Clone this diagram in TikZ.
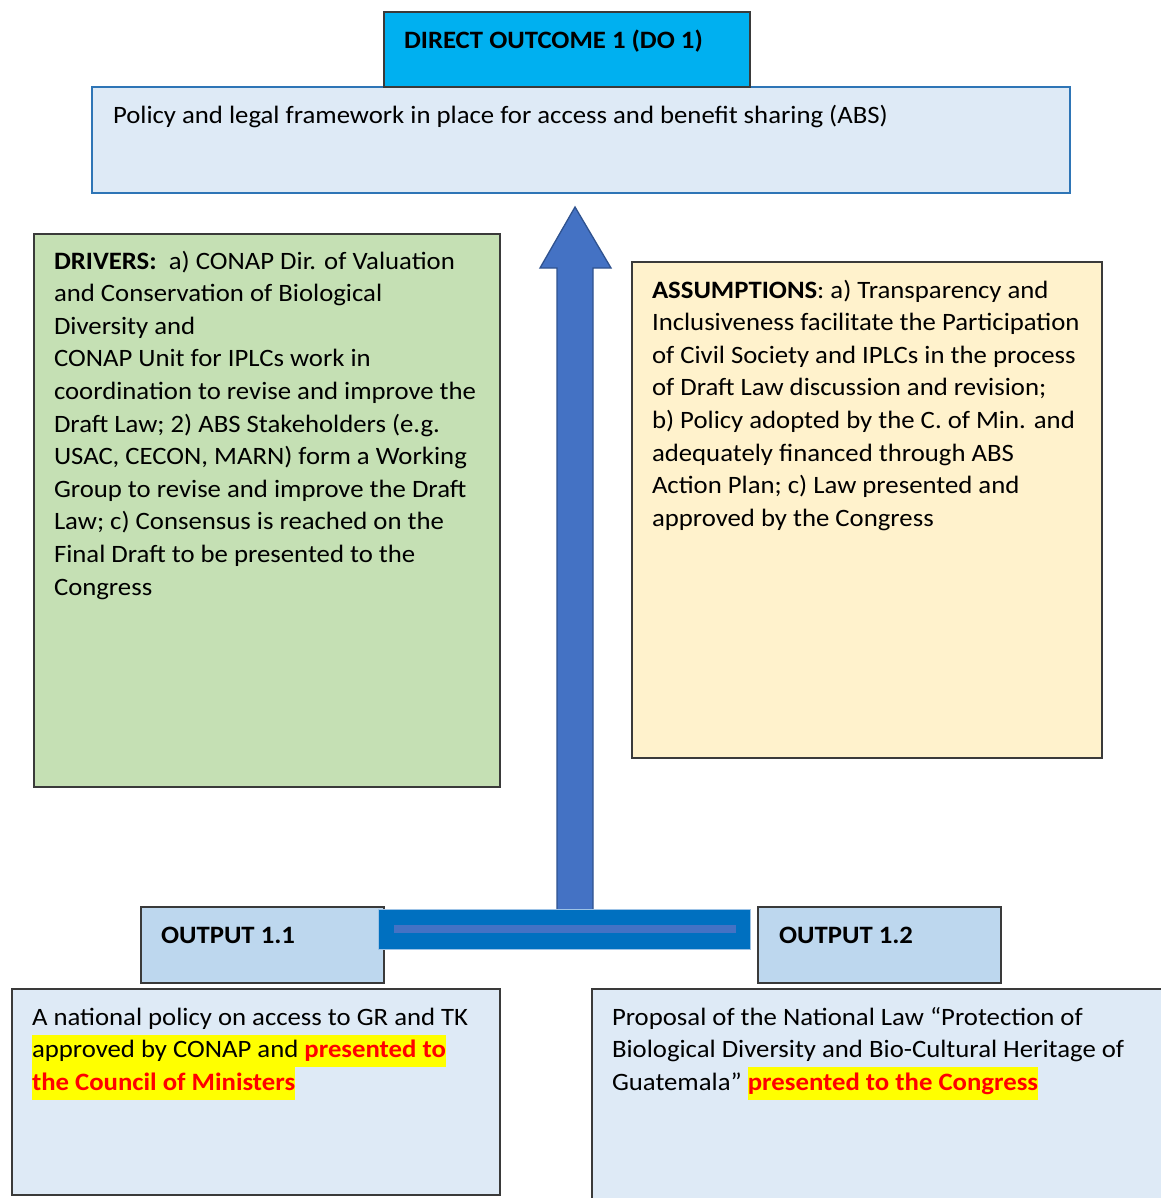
\documentclass[tikz,border=0pt]{standalone}
\usepackage{fontspec}
\setmainfont[FakeStretch=1.07]{Carlito}
\definecolor{docyan}{HTML}{00B0F0}
\definecolor{paleblue}{HTML}{DEEAF6}
\definecolor{boxblue}{HTML}{2E75B6}
\definecolor{drvgreen}{HTML}{C5E0B4}
\definecolor{asmyellow}{HTML}{FFF2CC}
\definecolor{arrowblue}{HTML}{4472C4}
\definecolor{arrowedge}{HTML}{2F528F}
\definecolor{barblue}{HTML}{0070C0}
\definecolor{baredge}{HTML}{9DC3E6}
\definecolor{outblue}{HTML}{BDD7EE}
\definecolor{edgegray}{HTML}{3A3A3A}
\definecolor{hlred}{HTML}{FF0000}
\definecolor{hlyellow}{HTML}{FFFF00}
\newcommand{\hlt}[1]{{\setlength{\fboxsep}{0pt}\colorbox{hlyellow}{\strut #1}}}
\newcommand{\redb}[1]{\textcolor{hlred}{\textbf{#1}}}
\begin{document}
\begin{tikzpicture}[x=1pt,y=-1pt,
  box/.style={draw=edgegray,line width=1.3pt,anchor=north west,inner sep=0pt,outer sep=0pt},
  txt/.style={anchor=north west,inner sep=0pt,outer sep=0pt,align=left,
    font=\fontsize{25}{32.6}\selectfont}]
\useasboundingbox (0,0) rectangle (1160,1198);
\fill[white] (0,0) rectangle (1160,1198);
% main outcome box
\node[box,draw=boxblue,line width=2pt,fill=paleblue,minimum width=978pt,minimum height=106pt] (main) at (92,87) {};
\node[box,fill=docyan,minimum width=366pt,minimum height=75pt] (dohead) at (384,12) {};
\node[txt] (dotext) at (404,48-22.8) {\strut\textbf{DIRECT OUTCOME 1 (DO 1)}};
\node[txt] (maintext) at (113,123-22.8) {\strut Policy and legal framework in place for access and benefit sharing (ABS)};
% drivers
\node[box,fill=drvgreen,minimum width=466pt,minimum height=553pt] (drivers) at (34,234) {};
\node[txt] (drvtext) at (54,269-22.8) {\strut\textbf{DRIVERS:}\ \ a) CONAP Dir. of Valuation\\
and Conservation of Biological\\
Diversity and\\
CONAP Unit for IPLCs work in\\
coordination to revise and improve the\\
Draft Law; 2) ABS Stakeholders (e.g.\\
USAC, CECON, MARN) form a Working\\
Group to revise and improve the Draft\\
Law; c) Consensus is reached on the\\
Final Draft to be presented to the\\
Congress};
% assumptions
\node[box,fill=asmyellow,minimum width=470pt,minimum height=496pt] (assump) at (632,262) {};
\node[txt] (asmtext) at (652,298-22.8) {\strut\textbf{ASSUMPTIONS}: a) Transparency and\\
Inclusiveness facilitate the Participation\\
of Civil Society and IPLCs in the process\\
of Draft Law discussion and revision;\\
b) Policy adopted by the C. of Min. and\\
adequately financed through ABS\\
Action Plan; c) Law presented and\\
approved by the Congress};
% big arrow
\coordinate (tip) at (575,207);
\coordinate (foot) at (575,912);
\draw[fill=arrowblue,draw=arrowedge,line width=1.3pt,line join=miter]
  (tip) -- (540,268) -- (557,268) -- (557,912) -- (593,912) -- (593,268) -- (611,268) -- cycle;
% output headers
\node[box,fill=outblue,minimum width=243pt,minimum height=76pt] (o1head) at (141,907) {};
\node[txt] (o1label) at (161,943-22.8) {\strut\textbf{OUTPUT 1.1}};
\node[box,fill=outblue,minimum width=243pt,minimum height=76pt] (o2head) at (758,907) {};
\node[txt] (o2label) at (779,943-22.8) {\strut\textbf{OUTPUT 1.2}};
% horizontal bar
\node[box,draw=baredge,line width=0.8pt,fill=barblue,minimum width=372pt,minimum height=40pt] (bar) at (378,909) {};
\fill[arrowblue] (394,925) rectangle (736,933);
% output boxes
\node[box,fill=paleblue,minimum width=488pt,minimum height=206pt] (o1box) at (12,989) {};
\node[txt] (o1text) at (32,1025-22.8) {\strut A national policy on access to GR and TK\\
\hlt{approved by CONAP and \redb{presented to}}\\
\hlt{\redb{the Council of Ministers}}};
\node[box,fill=paleblue,minimum width=580pt,minimum height=220pt] (o2box) at (592,989) {};
\node[txt] (o2text) at (612,1025-22.8) {\strut Proposal of the National Law “Protection of\\
Biological Diversity and Bio-Cultural Heritage of\\
Guatemala”\ \hlt{\redb{presented to the Congress}}};
\end{tikzpicture}
\end{document}
